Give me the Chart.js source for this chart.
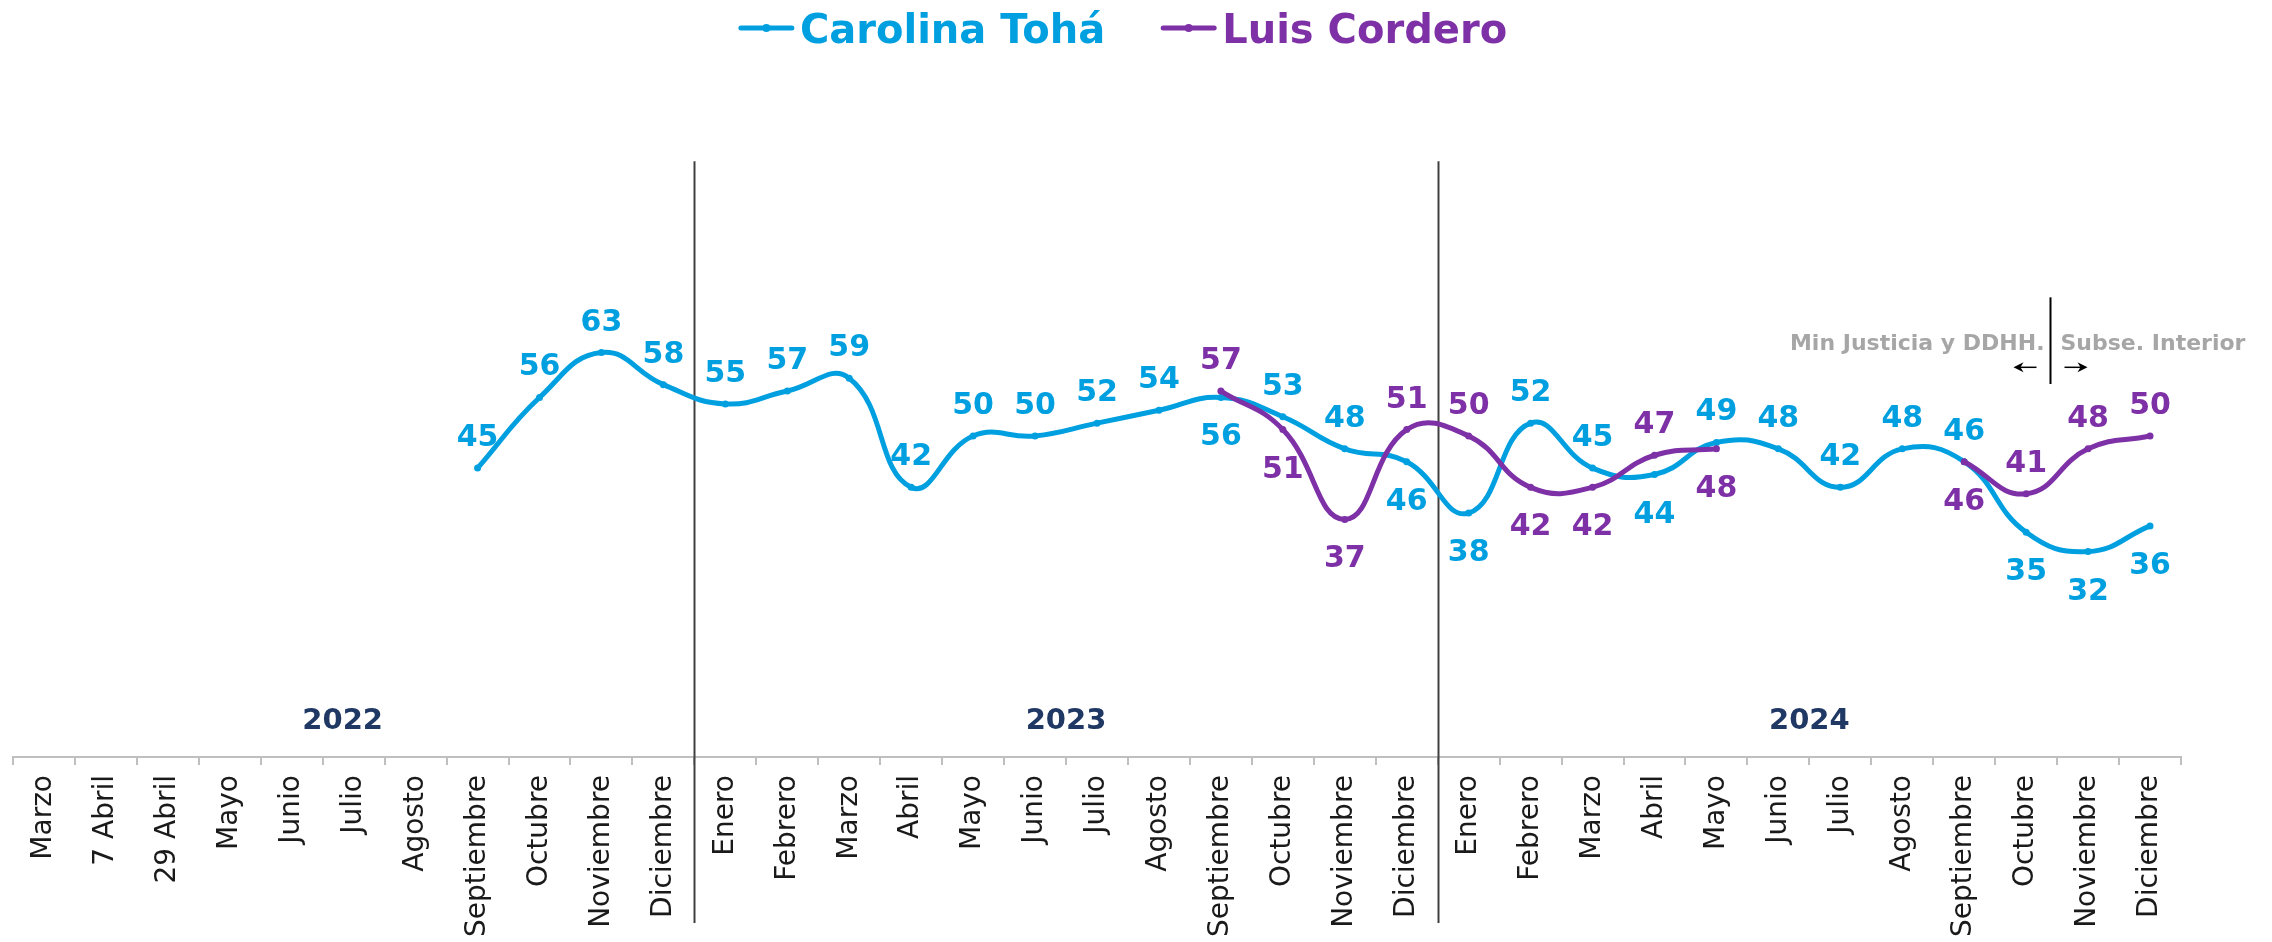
<!DOCTYPE html>
<html>
<head>
<meta charset="utf-8">
<script src="https://cdn.jsdelivr.net/npm/chart.js@4.4.0/dist/chart.umd.min.js"></script>
<style>
  html, body { margin: 0; padding: 0; background: #ffffff; overflow: hidden; }
  canvas { display: block; }
</style>
</head>
<body>
<canvas id="chart" width="2272" height="942"></canvas>
<script>
// ---------- DATA ----------
const categories = [
  'Marzo', '7 Abril', '29 Abril', 'Mayo', 'Junio', 'Julio', 'Agosto', 'Septiembre', 'Octubre', 'Noviembre', 'Diciembre',
  'Enero', 'Febrero', 'Marzo', 'Abril', 'Mayo', 'Junio', 'Julio', 'Agosto', 'Septiembre', 'Octubre', 'Noviembre', 'Diciembre',
  'Enero', 'Febrero', 'Marzo', 'Abril', 'Mayo', 'Junio', 'Julio', 'Agosto', 'Septiembre', 'Octubre', 'Noviembre', 'Diciembre'
];
const seriesNames = ['Carolina Tohá', 'Luis Cordero'];
const tohaValues = [
  null, null, null, null, null, null, null, 45, 56, 63, 58,
  55, 57, 59, 42, 50, 50, 52, 54, 56, 53, 48, 46,
  38, 52, 45, 44, 49, 48, 42, 48, 46, 35, 32, 36
];
const corderoValues = [
  null, null, null, null, null, null, null, null, null, null, null,
  null, null, null, null, null, null, null, null, 57, 51, 37, 51,
  50, 42, 42, 47, 48, null, null, null, 46, 41, 48, 50
];
const yearLabels = ['2022', '2023', '2024'];
const yearStartIndex = [0, 11, 23];
const annotationLeftText = 'Min Justicia y DDHH.';
const annotationRightText = 'Subse. Interior';

// ---------- STYLE ----------
const BLUE = '#00A0E0';
const PURPLE = '#7E30A6';
const FONT = '"DejaVu Sans", sans-serif';
// label placement: indices whose value label sits below the point
const tohaBelow = new Set([19, 22, 23, 26, 32, 33, 34]);
const corderoBelow = new Set([20, 21, 24, 25, 27, 31]);

const overlayPlugin = {
  id: 'overlay',
  beforeDatasetsDraw(chart) {
    const { ctx, scales: { x, y } } = chart;
    ctx.save();
    // year dividers
    ctx.strokeStyle = '#404040';
    ctx.lineWidth = 2;
    yearStartIndex.slice(1).forEach(i => {
      const px = Math.round((x.getPixelForValue(i - 1) + x.getPixelForValue(i)) / 2) + 0.5;
      ctx.beginPath();
      ctx.moveTo(px, y.getPixelForValue(92.8));
      ctx.lineTo(px, chart.height - 19);
      ctx.stroke();
    });
    // year labels
    ctx.fillStyle = '#1F3864';
    ctx.font = 'bold 29px ' + FONT;
    ctx.textAlign = 'center';
    ctx.textBaseline = 'alphabetic';
    yearLabels.forEach((t, k) => {
      const a = yearStartIndex[k];
      const b = (k + 1 < yearStartIndex.length ? yearStartIndex[k + 1] : categories.length) - 1;
      const px = (x.getPixelForValue(a) + x.getPixelForValue(b)) / 2 - (k === 0 ? 11 : 0);
      ctx.fillText(t, px, y.getPixelForValue(6) + 11);
    });
    // annotation
    const x0 = x.getPixelForValue(32);
    const x1 = x.getPixelForValue(33);
    const lx = Math.round(x0 + 0.38 * (x1 - x0)) + 0.5;
    ctx.strokeStyle = '#000000';
    ctx.lineWidth = 2;
    ctx.beginPath();
    ctx.moveTo(lx, y.getPixelForValue(71.6));
    ctx.lineTo(lx, y.getPixelForValue(58.1));
    ctx.stroke();
    ctx.fillStyle = '#A6A6A6';
    ctx.font = 'bold 22px ' + FONT;
    const ty = y.getPixelForValue(64.6) + 8;
    ctx.textAlign = 'right';
    ctx.fillText(annotationLeftText, lx - 6, ty);
    ctx.textAlign = 'left';
    ctx.fillText(annotationRightText, lx + 10, ty);
    // arrows
    const ay = y.getPixelForValue(60.7);
    const arrow = (from, to) => {
      const dir = Math.sign(to - from);
      ctx.strokeStyle = '#000';
      ctx.fillStyle = '#000';
      ctx.lineWidth = 1.5;
      ctx.beginPath();
      ctx.moveTo(from, ay);
      ctx.lineTo(to - dir * 6, ay);
      ctx.stroke();
      ctx.beginPath();
      ctx.moveTo(to, ay);
      ctx.lineTo(to - dir * 10, ay - 5);
      ctx.lineTo(to - dir * 7, ay);
      ctx.lineTo(to - dir * 10, ay + 5);
      ctx.closePath();
      ctx.fill();
    };
    arrow(lx - 14, lx - 37);
    arrow(lx + 14, lx + 37);
    ctx.restore();
  },
  afterDatasetsDraw(chart) {
    const { ctx } = chart;
    ctx.save();
    ctx.font = 'bold 30px ' + FONT;
    ctx.textAlign = 'center';
    ctx.textBaseline = 'alphabetic';
    chart.data.datasets.forEach((ds, di) => {
      const meta = chart.getDatasetMeta(di);
      const below = di === 0 ? tohaBelow : corderoBelow;
      ctx.fillStyle = ds.borderColor;
      meta.data.forEach((pt, i) => {
        const v = ds.data[i];
        if (v === null || v === undefined) return;
        const yy = below.has(i) ? pt.y + 48 : pt.y - 22;
        ctx.fillText(String(Math.round(v)), pt.x, yy);
      });
    });
    ctx.restore();
  },
  afterDraw(chart) {
    // custom legend
    const { ctx } = chart;
    ctx.save();
    ctx.font = 'bold 40px ' + FONT;
    ctx.textBaseline = 'alphabetic';
    ctx.textAlign = 'left';
    const lineW = 55, gapText = 6, gapItem = 56;
    const items = chart.data.datasets.map(ds => ({ label: ds.label, color: ds.borderColor, w: ctx.measureText(ds.label).width }));
    let total = 0;
    items.forEach((it, k) => { total += lineW + gapText + it.w + (k ? gapItem : 0); });
    let cx = chart.width / 2 - 13 - total / 2;
    const cy = 28;
    items.forEach((it, k) => {
      if (k) cx += gapItem;
      ctx.strokeStyle = it.color;
      ctx.fillStyle = it.color;
      ctx.lineWidth = 5;
      ctx.lineCap = 'round';
      ctx.beginPath();
      ctx.moveTo(cx + 2, cy);
      ctx.lineTo(cx + lineW - 2, cy);
      ctx.stroke();
      ctx.beginPath();
      ctx.arc(cx + lineW / 2, cy, 4, 0, Math.PI * 2);
      ctx.fill();
      cx += lineW + gapText;
      ctx.fillText(it.label, cx, 43);
      cx += it.w;
    });
    ctx.restore();
  }
};

new Chart(document.getElementById('chart'), {
  type: 'line',
  data: {
    labels: categories,
    datasets: [
      {
        label: seriesNames[0],
        data: tohaValues,
        borderColor: BLUE,
        backgroundColor: BLUE,
        pointBackgroundColor: BLUE,
        borderWidth: 5,
        pointRadius: 3.5,
        pointBorderWidth: 0,
        tension: 0.45,
        spanGaps: false,
        order: 2
      },
      {
        label: seriesNames[1],
        data: corderoValues,
        borderColor: PURPLE,
        backgroundColor: PURPLE,
        pointBackgroundColor: PURPLE,
        borderWidth: 5,
        pointRadius: 3.5,
        pointBorderWidth: 0,
        tension: 0.45,
        spanGaps: false,
        order: 1
      }
    ]
  },
  options: {
    responsive: false,
    devicePixelRatio: 1,
    animation: false,
    events: [],
    layout: { padding: { top: 115, left: 13, right: 91, bottom: 0 } },
    plugins: { legend: { display: false }, tooltip: { enabled: false } },
    scales: {
      x: {
        offset: true,
        grid: { display: true, offset: true, drawOnChartArea: false, drawTicks: true, tickLength: 8, color: '#BFBFBF', lineWidth: 2 },
        border: { display: true, color: '#BFBFBF', width: 2 },
        ticks: {
          autoSkip: false,
          minRotation: 90,
          maxRotation: 90,
          padding: 10,
          color: '#1a1a1a',
          font: { family: 'DejaVu Sans', size: 28 }
        },
        afterFit(scale) { scale.height = 185; }
      },
      y: {
        display: false,
        min: 0,
        max: 100
      }
    }
  },
  plugins: [overlayPlugin]
});
</script>
</body>
</html>
